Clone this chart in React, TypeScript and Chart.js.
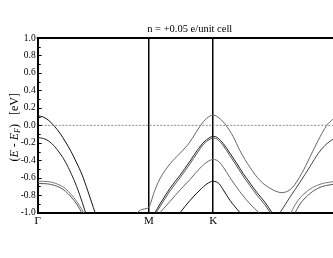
import React, { useEffect, useRef } from "react";
import { Chart, registerables } from "chart.js";

Chart.register(...registerables);

const TITLE = "n = +0.05 e/unit cell";
const kPoints = [0, 1, 1.577, 2.732];
const kLabels = ["Γ", "M", "K", "Γ"];
const yMin = -1;
const yMax = 1;
const yStep = 0.2;
const fermiLevel = 0;

// Γ–M bands
const bandA_k = [0, 0.05, 0.1, 0.15, 0.2, 0.25, 0.3, 0.35, 0.4, 0.45, 0.5, 0.55];
const bandA_E = [0.11, 0.095, 0.055, -0.01, -0.09, -0.19, -0.3, -0.43, -0.57, -0.75, -0.94, -1.13];
const bandB_k = [0, 0.05, 0.1, 0.15, 0.2, 0.25, 0.3, 0.35, 0.4, 0.45];
const bandB_E = [-0.14, -0.15, -0.18, -0.24, -0.32, -0.42, -0.55, -0.7, -0.88, -1.08];
const bandC_k = [0, 0.05, 0.1, 0.15, 0.2, 0.25, 0.3, 0.35, 0.4, 0.45];
const bandC_E = [-0.64, -0.641, -0.645, -0.66, -0.685, -0.725, -0.79, -0.87, -0.97, -1.08];
const bandD_k = [0, 0.05, 0.1, 0.15, 0.2, 0.25, 0.3, 0.35, 0.4, 0.45];
const bandD_E = [-0.665, -0.667, -0.672, -0.687, -0.712, -0.755, -0.82, -0.9, -1.01, -1.12];

// band through M, K and back to Γ
const bandT_k = [0.874, 0.901, 0.946, 1.0, 1.018, 1.039, 1.063, 1.099, 1.189, 1.279, 1.368, 1.413, 1.458, 1.518, 1.577, 1.638, 1.692, 1.757, 1.817, 1.907, 1.996, 2.087, 2.192, 2.282, 2.372, 2.447, 2.521, 2.597, 2.654, 2.732];
const bandT_E = [-1.03, -0.99, -0.96, -0.935, -0.88, -0.79, -0.71, -0.61, -0.44, -0.32, -0.19, -0.1, -0.01, 0.08, 0.118, 0.075, 0.0, -0.13, -0.29, -0.48, -0.63, -0.72, -0.77, -0.72, -0.55, -0.36, -0.17, 0.0, 0.07, 0.11];

// M–K–Γ bands peaking at K
const bandP_k = [1.036, 1.054, 1.099, 1.189, 1.279, 1.368, 1.431, 1.494, 1.539, 1.577, 1.614, 1.668, 1.728, 1.788, 1.845, 1.907, 1.97, 2.042, 2.105, 2.141];
const bandP1_E = [-1.04, -1.0, -0.9, -0.72, -0.57, -0.41, -0.29, -0.19, -0.145, -0.125, -0.14, -0.21, -0.32, -0.435, -0.55, -0.66, -0.77, -0.88, -1.0, -1.07];
const bandP2_E = [-1.06, -1.02, -0.93, -0.75, -0.6, -0.44, -0.32, -0.21, -0.165, -0.145, -0.16, -0.235, -0.35, -0.465, -0.58, -0.69, -0.8, -0.91, -1.03, -1.1];
const bandQ_k = [1.081, 1.099, 1.189, 1.279, 1.368, 1.458, 1.521, 1.577, 1.631, 1.668, 1.728, 1.817, 1.907, 1.988, 2.033];
const bandQ_E = [-1.03, -1.0, -0.87, -0.74, -0.62, -0.49, -0.42, -0.39, -0.42, -0.48, -0.6, -0.76, -0.9, -1.0, -1.06];
const bandR_k = [1.261, 1.279, 1.368, 1.458, 1.521, 1.577, 1.631, 1.668, 1.728, 1.817, 1.853];
const bandR_E = [-1.03, -1.0, -0.86, -0.74, -0.67, -0.64, -0.67, -0.74, -0.86, -1.0, -1.06];

// K–Γ bands rising to Γ
const bandB2_k = [2.159, 2.177, 2.267, 2.357, 2.447, 2.521, 2.581, 2.654, 2.732];
const bandB2_E = [-1.03, -1.0, -0.82, -0.65, -0.47, -0.32, -0.23, -0.16, -0.14];
const bandC2_k = [2.258, 2.276, 2.312, 2.357, 2.447, 2.537, 2.654, 2.732];
const bandC2_E = [-1.03, -1.0, -0.91, -0.83, -0.73, -0.675, -0.645, -0.64];
const bandD2_k = [2.294, 2.312, 2.357, 2.447, 2.537, 2.654, 2.732];
const bandD2_E = [-1.03, -1.0, -0.9, -0.78, -0.71, -0.675, -0.665];

const SERIF = "'Liberation Serif', 'Times New Roman', serif";

function band(k: number[], e: number[], color: string, width = 1) {
  return {
    data: k.map((x, i) => ({ x, y: e[i] })),
    borderColor: color,
    borderWidth: width,
    pointRadius: 0,
    fill: false,
    cubicInterpolationMode: "monotone" as const,
    clip: 0,
  };
}

const frameAndTicks = {
  id: "frameAndTicks",
  afterDatasetsDraw(chart: any) {
    const { ctx, chartArea } = chart;
    const ys = chart.scales.y;
    ctx.save();
    ctx.strokeStyle = "#000";
    ctx.lineWidth = 2;
    ctx.beginPath();
    ctx.moveTo(chartArea.left - 1, chartArea.top);
    ctx.lineTo(chartArea.right, chartArea.top);
    ctx.stroke();
    ctx.lineWidth = 1;
    for (let i = 0; i <= 20; i++) {
      const v = yMin + i * 0.1;
      const y = Math.round(ys.getPixelForValue(v)) + 0.5;
      const len = i % 2 === 0 ? 4 : 3;
      ctx.beginPath();
      ctx.moveTo(chartArea.left, y);
      ctx.lineTo(chartArea.left + len, y);
      ctx.stroke();
    }
    // y-axis title with italic E and subscript F
    const cy = (chartArea.top + chartArea.bottom) / 2 + 2;
    ctx.translate(15, cy);
    ctx.rotate(-Math.PI / 2);
    ctx.fillStyle = "#000";
    ctx.textBaseline = "middle";
    const big = `12px ${SERIF}`;
    const ital = `italic 12px ${SERIF}`;
    const sub = `italic 8px ${SERIF}`;
    const parts: [string, string, number][] = [
      ["(", big, 0],
      ["E", ital, 0],
      [" - ", big, 0],
      ["E", ital, 0],
      ["F", sub, 3],
      [")", big, 0],
      ["   [eV]", big, 0],
    ];
    let total = 0;
    for (const [t, f] of parts) {
      ctx.font = f;
      total += ctx.measureText(t).width;
    }
    let x = -total / 2;
    for (const [t, f, dy] of parts) {
      ctx.font = f;
      ctx.fillText(t, x, dy);
      x += ctx.measureText(t).width;
    }
    ctx.restore();
  },
};

export default function App() {
  const ref = useRef<HTMLCanvasElement>(null);
  useEffect(() => {
    const datasets: any[] = [
      {
        data: [
          { x: kPoints[0], y: fermiLevel },
          { x: kPoints[3], y: fermiLevel },
        ],
        borderColor: "#8a8a8a",
        borderWidth: 1,
        borderDash: [2, 1.5],
        pointRadius: 0,
        clip: 0,
      },
      band(bandA_k, bandA_E, "#111"),
      band(bandB_k, bandB_E, "#222"),
      band(bandC_k, bandC_E, "#777"),
      band(bandD_k, bandD_E, "#555"),
      band(bandT_k, bandT_E, "#666"),
      band(bandP_k, bandP1_E, "#222"),
      band(bandP_k, bandP2_E, "#555"),
      band(bandQ_k, bandQ_E, "#666"),
      band(bandR_k, bandR_E, "#111"),
      band(bandB2_k, bandB2_E, "#444"),
      band(bandC2_k, bandC2_E, "#777"),
      band(bandD2_k, bandD2_E, "#555"),
    ];
    const chart = new Chart(ref.current!, {
      type: "line",
      data: { datasets },
      options: {
        animation: false,
        responsive: false,
        maintainAspectRatio: false,
        layout: { padding: { left: 0, right: 8.2, top: 0, bottom: 0 } },
        plugins: {
          legend: { display: false },
          tooltip: { enabled: false },
          title: {
            display: true,
            text: TITLE,
            fullSize: false,
            color: "#000",
            font: { family: SERIF, size: 10.5, weight: "normal" },
            padding: { top: 23, bottom: 2.4 },
          },
        },
        scales: {
          x: {
            type: "linear",
            min: kPoints[0],
            max: kPoints[3],
            afterBuildTicks: (s: any) => {
              s.ticks = kPoints.map((v) => ({ value: v }));
            },
            afterFit: (s: any) => {
              s.height = 45.3;
            },
            ticks: {
              autoSkip: false,
              maxRotation: 0,
              color: "#000",
              padding: 2,
              font: { family: SERIF, size: 11 },
              callback: (_v: any, i: number) => kLabels[i],
            },
            grid: { color: "#000", lineWidth: 1.5, drawTicks: false, drawOnChartArea: true },
            border: { display: true, color: "#000", width: 2 },
          },
          y: {
            min: yMin,
            max: yMax,
            afterFit: (s: any) => {
              s.width = 37.7;
            },
            ticks: {
              stepSize: yStep,
              color: "#000",
              padding: 2,
              font: { family: SERIF, size: 9.5 },
              callback: (v: any) => Number(v).toFixed(1),
            },
            grid: { display: false, drawTicks: false },
            border: { display: true, color: "#000", width: 2 },
          },
        },
      },
      plugins: [frameAndTicks],
    });
    return () => chart.destroy();
  }, []);
  return (
    <div
      style={{
        position: "fixed",
        left: 0,
        top: 0,
        width: 333,
        height: 258,
        overflow: "hidden",
        background: "#fff",
      }}
    >
      <canvas ref={ref} width={350} height={258} style={{ display: "block", width: 350, height: 258 }} />
    </div>
  );
}
